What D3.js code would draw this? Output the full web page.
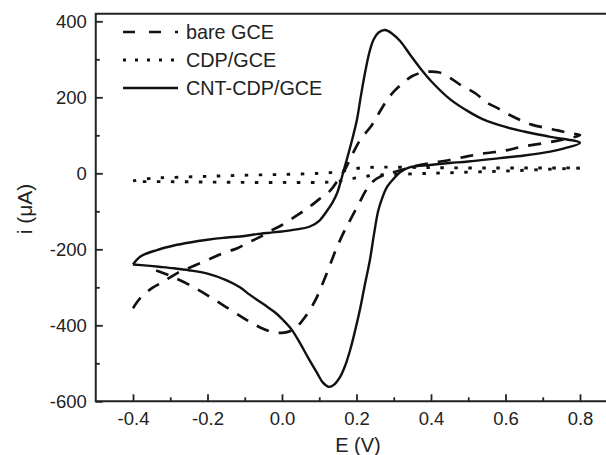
<!DOCTYPE html>
<html>
<head>
<meta charset="utf-8">
<script src="https://cdn.jsdelivr.net/npm/d3@7"></script>
<style>
  body { margin: 0; background: #fff; }
  svg { display: block; font-family: "Liberation Sans", Arial, sans-serif; }
  .axis path, .axis line { stroke: #222; }
</style>
</head>
<body>
<svg id="chart" width="606" height="455"></svg>
<script>
// cyclic voltammograms, [E (V), i (uA)] in scan order
var bareGCE = [
  [-0.4, -355], [-0.38, -328], [-0.35, -303], [-0.32, -286], [-0.28, -262], [-0.25, -249],
  [-0.2, -228], [-0.16, -211], [-0.12, -197], [-0.09, -182], [-0.06, -168], [-0.03, -151],
  [0.0, -136], [0.04, -111], [0.07, -91], [0.1, -68], [0.13, -45], [0.15, -18],
  [0.17, 12], [0.19, 52], [0.21, 88], [0.24, 125], [0.26, 158], [0.28, 190],
  [0.3, 215], [0.325, 238], [0.35, 256], [0.38, 266], [0.42, 266], [0.45, 252],
  [0.48, 232], [0.52, 210], [0.55, 186], [0.58, 171], [0.61, 154], [0.64, 140],
  [0.67, 128], [0.71, 119], [0.74, 113], [0.77, 106], [0.8, 101],
  [0.75, 88], [0.7, 79], [0.64, 69], [0.6, 60], [0.54, 52], [0.5, 45], [0.45, 35],
  [0.4, 27], [0.35, 17], [0.3, 3], [0.265, -8], [0.24, -25], [0.223, -49],
  [0.209, -75], [0.183, -123], [0.169, -149], [0.15, -189], [0.137, -220], [0.124, -254],
  [0.11, -288], [0.094, -325], [0.08, -351], [0.062, -378], [0.04, -404], [0.02, -416],
  [0.0, -420], [-0.025, -418], [-0.06, -405], [-0.1, -383], [-0.15, -352], [-0.2, -321],
  [-0.25, -293], [-0.3, -270], [-0.34, -255], [-0.36, -250]
];

var cdpGCE = [
  [-0.4, -20], [-0.35, -13], [-0.3, -11], [-0.2, -8], [-0.1, -5], [0.0, -3],
  [0.1, 0], [0.15, 4], [0.2, 13], [0.25, 16], [0.3, 16], [0.4, 15],
  [0.5, 14], [0.6, 14], [0.7, 14], [0.8, 14],
  [0.7, 10], [0.6, 6], [0.5, 3], [0.4, 0], [0.3, -3], [0.25, -5],
  [0.2, -12], [0.15, -21], [0.1, -24], [0.0, -24], [-0.1, -24], [-0.2, -23],
  [-0.3, -22], [-0.4, -22]
];

var cntCDPGCE = [
  [-0.4, -240], [-0.38, -219], [-0.336, -202], [-0.29, -190], [-0.247, -182], [-0.2, -175],
  [-0.158, -170], [-0.1, -165], [-0.068, -160], [-0.03, -156], [0.0, -153], [0.03, -149],
  [0.075, -140], [0.1, -125], [0.12, -100], [0.135, -78], [0.148, -52], [0.158, -20],
  [0.165, 5], [0.175, 40], [0.19, 95], [0.201, 140], [0.212, 205], [0.223, 265],
  [0.235, 320], [0.246, 352], [0.26, 371], [0.277, 377], [0.295, 368], [0.317, 348],
  [0.344, 312], [0.37, 278], [0.4, 243], [0.45, 196], [0.5, 163], [0.54, 142],
  [0.6, 122], [0.65, 110], [0.72, 96], [0.8, 80],
  [0.76, 66], [0.72, 57], [0.65, 47], [0.585, 40], [0.5, 31], [0.45, 27],
  [0.397, 22], [0.344, 16], [0.317, 3], [0.3, -14], [0.282, -36], [0.268, -68],
  [0.258, -100], [0.247, -160], [0.236, -228], [0.222, -295], [0.209, -360], [0.196, -415],
  [0.183, -465], [0.17, -505], [0.156, -536], [0.14, -556], [0.126, -562], [0.11, -551],
  [0.094, -525], [0.07, -485], [0.048, -446], [0.025, -410], [0.003, -386], [-0.02, -365],
  [-0.04, -351], [-0.086, -320], [-0.113, -300], [-0.15, -281], [-0.2, -264], [-0.25, -255],
  [-0.29, -250], [-0.33, -246], [-0.362, -243], [-0.4, -240]
];

var xTicks = [-0.4, -0.2, 0.0, 0.2, 0.4, 0.6, 0.8];
var yTicks = [-600, -400, -200, 0, 200, 400];

var svg = d3.select("#chart");

var x = d3.scaleLinear().domain([-0.5, 0.9]).range([95.75, 617.25]);
var y = d3.scaleLinear().domain([-600, 420]).range([401.3, 13.7]);

var line = d3.line()
    .x(function(d) { return x(d[0]); })
    .y(function(d) { return y(d[1]); })
    .curve(d3.curveCatmullRom.alpha(0.5));

// plain hyphen instead of the unicode minus
var fmtX = function(d) { return d3.format(".1f")(d).replace("\u2212", "-"); };
var fmtY = function(d) { return d3.format("d")(d).replace("\u2212", "-"); };

// frame (right side falls outside the picture)
svg.append("path")
    .attr("d", "M" + x.range()[1] + "," + y(420) + "H" + x(-0.5) + "V" + y(-600) + "H" + x.range()[1])
    .attr("fill", "none")
    .attr("stroke", "#222")
    .attr("stroke-width", 2);

// minor ticks
svg.append("g")
    .attr("class", "axis")
    .attr("transform", "translate(0," + y(-600) + ")")
    .call(d3.axisTop(x).tickValues(d3.range(-0.3, 0.9, 0.2)).tickSize(4).tickFormat(""))
    .call(function(g) { g.select(".domain").remove(); })
    .selectAll("line").attr("stroke-width", 1.8);
svg.append("g")
    .attr("class", "axis")
    .attr("transform", "translate(" + x(-0.5) + ",0)")
    .call(d3.axisRight(y).tickValues(d3.range(-500, 400, 200)).tickSize(4).tickFormat(""))
    .call(function(g) { g.select(".domain").remove(); })
    .selectAll("line").attr("stroke-width", 1.8);

// major ticks
var xAxis = svg.append("g")
    .attr("class", "axis")
    .attr("transform", "translate(0," + y(-600) + ")")
    .call(d3.axisTop(x).tickValues(xTicks).tickSize(7).tickFormat(fmtX));
xAxis.select(".domain").remove();
xAxis.selectAll("line").attr("stroke-width", 1.8);
xAxis.selectAll("text")
    .attr("y", 24).attr("dy", null)
    .attr("font-size", 18.5).attr("fill", "#222");

var yAxis = svg.append("g")
    .attr("class", "axis")
    .attr("transform", "translate(" + x(-0.5) + ",0)")
    .call(d3.axisRight(y).tickValues(yTicks).tickSize(7).tickFormat(fmtY));
yAxis.select(".domain").remove();
yAxis.selectAll("line").attr("stroke-width", 1.8);
yAxis.selectAll("text")
    .attr("x", -9).attr("text-anchor", "end")
    .attr("font-size", 18.5).attr("fill", "#222");

// axis titles
svg.append("text")
    .attr("x", 358).attr("y", 452)
    .attr("text-anchor", "middle")
    .attr("font-size", 20)
    .attr("fill", "#222")
    .text("E (V)");
svg.append("text")
    .attr("transform", "translate(32,209) rotate(-90)")
    .attr("text-anchor", "middle")
    .attr("font-size", 21)
    .attr("fill", "#222")
    .text("i (μA)");

// curves
var series = [
  { name: "bare GCE", data: bareGCE, dash: "13,10", legendDash: "12,14", width: 2.7 },
  { name: "CDP/GCE", data: cdpGCE, dash: "3.5,10.5", legendDash: "3,9", width: 2.9 },
  { name: "CNT-CDP/GCE", data: cntCDPGCE, dash: null, legendDash: null, width: 2.4 }
];

series.forEach(function(s) {
  svg.append("path")
      .datum(s.data)
      .attr("d", line)
      .attr("fill", "none")
      .attr("stroke", "#111")
      .attr("stroke-width", s.width)
      .attr("stroke-dasharray", s.dash);
});

// legend
var legend = svg.append("g");
series.forEach(function(s, i) {
  var ly = 32 + i * 28;
  legend.append("line")
      .attr("x1", 123).attr("x2", 178)
      .attr("y1", ly).attr("y2", ly)
      .attr("stroke", "#111")
      .attr("stroke-width", s.width)
      .attr("stroke-dasharray", s.legendDash);
  legend.append("text")
      .attr("x", 186).attr("y", ly + 7)
      .attr("font-size", 19.8)
      .attr("fill", "#222")
      .text(s.name);
});
</script>
</body>
</html>
